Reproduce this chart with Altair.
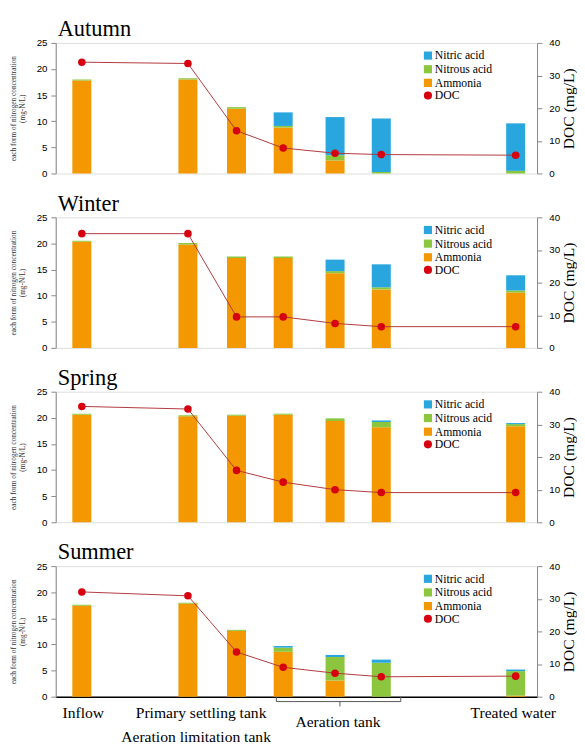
import altair as alt
import pandas as pd

# ---------------- data ----------------
stages = ["Inflow", "Primary settling tank", "Aeration limitation tank",
          "Aeration tank 1", "Aeration tank 2", "Aeration tank 3", "Treated water"]
stage_pos = [0.45, 2.7, 3.73, 4.72, 5.82, 6.8, 9.65]

seasons = ["Autumn", "Winter", "Spring", "Summer"]

ammonia = {
    "Autumn": [17.8, 18.0, 12.4, 8.8, 2.5, 0.0, 0.0],
    "Winter": [20.3, 19.8, 17.2, 17.2, 14.3, 11.2, 10.6],
    "Spring": [20.6, 20.3, 20.4, 20.6, 19.4, 18.2, 18.4],
    "Summer": [17.4, 17.8, 12.6, 8.6, 3.1, 0.0, 0.2],
}
nitrous = {
    "Autumn": [0.2, 0.25, 0.3, 0.3, 1.0, 0.3, 0.5],
    "Winter": [0.2, 0.3, 0.3, 0.3, 0.4, 0.4, 0.4],
    "Spring": [0.2, 0.2, 0.2, 0.2, 0.5, 1.0, 0.4],
    "Summer": [0.2, 0.2, 0.2, 0.8, 4.5, 6.5, 4.7],
}
nitric = {
    "Autumn": [0.0, 0.0, 0.0, 2.6, 7.3, 10.25, 9.1],
    "Winter": [0.0, 0.0, 0.0, 0.0, 2.2, 4.4, 2.9],
    "Spring": [0.0, 0.0, 0.0, 0.0, 0.0, 0.3, 0.2],
    "Summer": [0.0, 0.0, 0.0, 0.3, 0.4, 0.6, 0.3],
}
doc = {
    "Autumn": [34.1, 33.7, 13.1, 7.8, 6.2, 5.8, 5.6],
    "Winter": [35.0, 35.0, 9.5, 9.5, 7.5, 6.5, 6.5],
    "Spring": [35.5, 34.7, 15.9, 12.3, 10.0, 9.1, 9.1],
    "Summer": [32.1, 30.9, 13.7, 9.0, 7.2, 6.1, 6.3],
}

components = ["Nitric acid", "Nitrous acid", "Ammonia"]
comp_colors = ["#29A6DE", "#8CC63F", "#F39800"]
DOC_RED = "#D7000F"
LINE_RED = "#B0363C"

left_ticks = [0, 5, 10, 15, 20, 25]
right_ticks = [0, 10, 20, 30, 40]

W, H = 494, 134
SERIF = "Liberation Serif"

label_idx = [0, 1, 2, 6]
bracket_idx = [3, 4, 5]


def fmt(v):
    return repr(float(v))


def x_axis_last():
    vals = [stage_pos[i] for i in label_idx]
    expr = ""
    for i in label_idx:
        expr += "datum.value == %s ? '%s' : " % (fmt(stage_pos[i]), stages[i])
    expr += "''"
    p_prim, p_lim, p_trt = fmt(stage_pos[1]), fmt(stage_pos[2]), fmt(stage_pos[6])
    return alt.Axis(
        values=vals, labelExpr=expr, title=None, ticks=False, grid=False,
        labelFont=SERIF, labelFontSize=16, labelColor="black",
        labelFlush=False, labelOverlap=False, labelBound=False,
        labelPadding={"condition": {"test": "datum.value == " + p_lim, "value": 33}, "value": 8},
        labelOffset={"condition": [
            {"test": "datum.value == " + p_prim, "value": 13},
            {"test": "datum.value == " + p_lim, "value": -42},
            {"test": "datum.value == " + p_trt, "value": -3},
        ], "value": 1},
        domainColor="black", domainWidth=1.5,
    )


def panel(season, last):
    rows = []
    for comp, arr, order in [("Ammonia", ammonia[season], 0),
                             ("Nitrous acid", nitrous[season], 1),
                             ("Nitric acid", nitric[season], 2)]:
        for st, p, v in zip(stages, stage_pos, arr):
            if v > 0:
                rows.append(dict(stage=st, pos=p, component=comp, value=v, order=order))
    bars_df = pd.DataFrame(rows)
    doc_df = pd.DataFrame(dict(stage=stages, pos=stage_pos, doc=doc[season],
                               series=["DOC"] * len(stages)))

    xscale = alt.Scale(domain=[0, 10], nice=False, zero=False)
    xaxis = x_axis_last() if last else None

    bars = alt.Chart(bars_df).mark_bar(size=19.5).encode(
        x=alt.X("pos:Q", scale=xscale, axis=xaxis),
        y=alt.Y("value:Q", stack="zero", scale=alt.Scale(domain=[0, 25], nice=False),
                axis=alt.Axis(values=left_ticks, title=["each form of nitrogen concentration", "(mg-N/L)"],
                              titleFont=SERIF, titleFontSize=7.5, titleFontWeight="normal",
                              titleColor="#333", titlePadding=10, labelPadding=4, grid=False)),
        color=alt.Color("component:N",
                        scale=alt.Scale(domain=components, range=comp_colors),
                        legend=alt.Legend(orient="none", legendX=376, legendY=7, title=None,
                                          symbolType="square", symbolSize=70,
                                          symbolStrokeWidth=0, labelFont=SERIF,
                                          labelFontSize=12, labelColor="black",
                                          labelOffset=1, rowPadding=2)),
        order=alt.Order("order:Q", sort="ascending"),
    )

    doc_axis = alt.Axis(orient="right", values=right_ticks, title="DOC (mg/L)",
                        titleFont=SERIF, titleFontSize=16, titleFontWeight="normal",
                        titleColor="black", titleAngle=270, titleBaseline="top",
                        titlePadding=1, labelPadding=7, grid=False)
    yd = alt.Y("doc:Q", scale=alt.Scale(domain=[0, 40], nice=False), axis=doc_axis)

    line = alt.Chart(doc_df).mark_line(color=LINE_RED, strokeWidth=1).encode(
        x=alt.X("pos:Q", scale=xscale, axis=xaxis), y=yd)
    points = alt.Chart(doc_df).mark_point(filled=True, size=60, opacity=1, color=DOC_RED).encode(
        x=alt.X("pos:Q", scale=xscale, axis=xaxis), y=yd,
        shape=alt.Shape("series:N", scale=alt.Scale(domain=["DOC"], range=["circle"]),
                        legend=alt.Legend(orient="none", legendX=376, legendY=48, title=None,
                                          symbolSize=70, symbolFillColor=DOC_RED,
                                          symbolStrokeColor=DOC_RED, symbolStrokeWidth=0,
                                          labelFont=SERIF, labelFontSize=12,
                                          labelColor="black", labelOffset=1)))
    doc_layer = alt.layer(line, points)

    layers = [bars, doc_layer]
    if last:
        br_span = pd.DataFrame(dict(start=[stage_pos[bracket_idx[0]]],
                                    end=[stage_pos[bracket_idx[-1]]],
                                    mid=[stage_pos[bracket_idx[1]]],
                                    label=["Aeration tank"]))
        hline = alt.Chart(br_span).mark_rule(color="#555", strokeWidth=1, xOffset=-7, x2Offset=20).encode(
            x=alt.X("start:Q", scale=xscale, axis=xaxis), x2="end:Q",
            y=alt.value(H + 5))
        lend = alt.Chart(br_span).mark_rule(color="#555", strokeWidth=1, xOffset=-7).encode(
            x=alt.X("start:Q", scale=xscale, axis=xaxis), y=alt.value(H), y2=alt.value(H + 5))
        rend = alt.Chart(br_span).mark_rule(color="#555", strokeWidth=1, xOffset=20).encode(
            x=alt.X("end:Q", scale=xscale, axis=xaxis), y=alt.value(H), y2=alt.value(H + 5))
        mtick = alt.Chart(br_span).mark_rule(color="#555", strokeWidth=1, xOffset=5).encode(
            x=alt.X("mid:Q", scale=xscale, axis=xaxis), y=alt.value(H + 5), y2=alt.value(H + 10))
        btxt = alt.Chart(br_span).mark_text(font=SERIF, fontSize=16, color="black",
                                            baseline="middle", dx=3).encode(
            x=alt.X("mid:Q", scale=xscale, axis=xaxis), y=alt.value(H + 26), text="label:N")
        layers += [hline, lend, rend, mtick, btxt]

    return alt.layer(*layers).resolve_scale(y="independent").properties(
        width=W, height=H,
        title=alt.TitleParams(season, anchor="start", frame="group", font=SERIF, fontSize=23,
                              fontWeight="normal", color="black", offset=-3, dx=2),
    )


panels = [panel(s, i == len(seasons) - 1) for i, s in enumerate(seasons)]

chart = alt.vconcat(*panels, spacing=13).resolve_scale(
    color="independent", shape="independent"
).resolve_legend(
    color="independent", shape="independent"
).configure_view(
    stroke="black", strokeWidth=1.5
).configure_axis(
    labelFont="Open Sans", labelFontSize=10, labelColor="#555",
    tickColor="black", tickSize=3, domainColor="black", domainWidth=1.5, grid=False
).configure(background="white", padding=0)

chart.save("out.html", embed_options={"renderer": "svg", "actions": False})
